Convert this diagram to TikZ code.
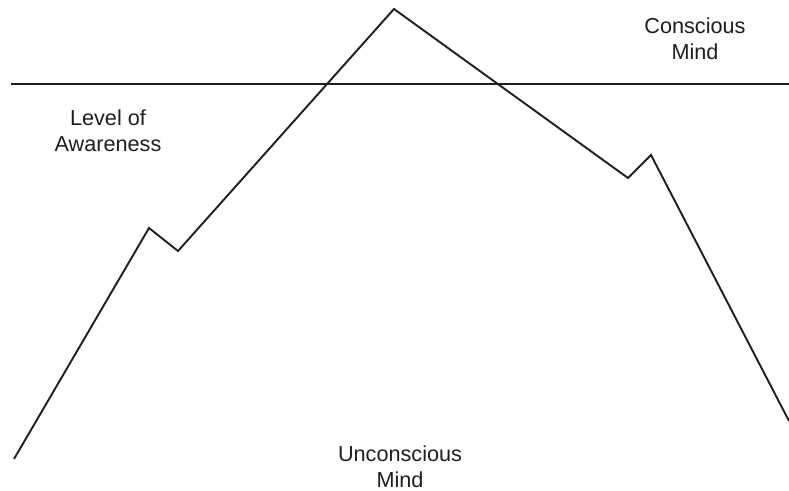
\documentclass[tikz,border=0pt]{standalone}
\usepackage{fontspec}
\setmainfont{Liberation Sans}
\definecolor{Ink}{HTML}{1E1E1E}

\begin{document}
\begin{tikzpicture}[x=0.025cm,y=-0.025cm,every node/.style={font=\fontsize{15.4}{18.5}\selectfont,text=Ink,align=center,inner sep=0pt},line/.style={draw=Ink,line width=1.35pt,line join=miter}]
\useasboundingbox (0,0) rectangle (789,491);
\coordinate (left) at (11,84);\coordinate (right) at (789,84);
\draw[line] (left)--(right);
\draw[line] (14,459)--(149,228)--(178,251)--(394,9)--(628,178)--(651,155)--(789,421);
\node (conscious) at (695,39) {Conscious\\Mind};
\node (awareness) at (108,131) {Level of\\Awareness};
\node (unconscious) at (400,467) {Unconscious\\Mind};
\end{tikzpicture}
\end{document}
